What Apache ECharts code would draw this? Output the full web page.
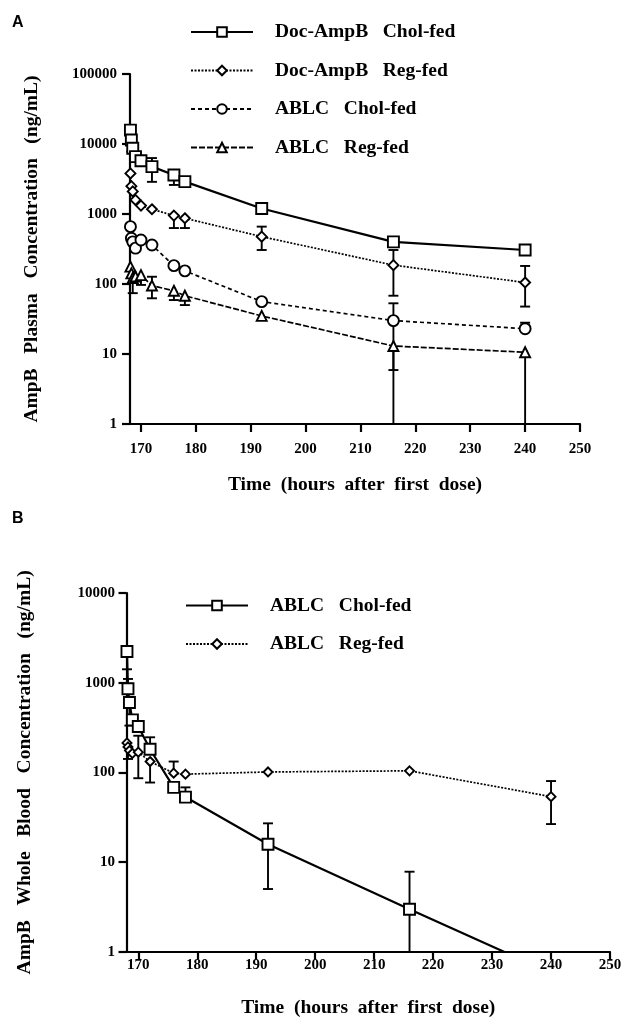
<!DOCTYPE html>
<html><head><meta charset="utf-8">
<script src="https://cdn.jsdelivr.net/npm/echarts@6/dist/echarts.min.js"></script>
<style>html,body{margin:0;padding:0;background:#fff;} #a{width:625px;height:510px;} #b{width:625px;height:508px;}</style>
</head><body><div id="a"></div><div id="b"></div>
<script>
// ---------- data ----------
const times = [168.08, 168.25, 168.5, 169, 170, 172, 176, 178, 192, 216, 240];
const xTicks = [170, 180, 190, 200, 210, 220, 230, 240, 250];
const yTicksA = [1, 10, 100, 1000, 10000, 100000];
const yTicksB = [1, 10, 100, 1000, 10000];

// Panel A (plasma)
const namesA = ['Doc-AmpB   Chol-fed', 'Doc-AmpB   Reg-fed', 'ABLC   Chol-fed', 'ABLC   Reg-fed'];
const docCholA = [15800, 11400, 8700, 6600, 5750, 4750, 3600, 2900, 1200, 400, 306];
const docRegA  = [3800, 2500, 2100, 1590, 1320, 1170, 950, 870, 475, 186, 105];
const ablcCholA = [660, 450, 400, 325, 425, 360, 183, 154, 56, 30, 23];
const ablcRegA  = [177, 142, 122, 128, 134, 95, 80, 68, 35, 13, 10.6];
// error bars: [time, mean, lower, upper]
const errDocCholA = [[168.25, 11400, 7760, null], [172, 4750, 2880, 6300], [176, 3600, 2600, null]];
const errDocRegA  = [[176, 950, 630, null], [178, 870, 630, null], [192, 475, 306, 660], [216, 186, 68, 306], [240, 105, 47.6, 181]];
const errAblcCholA = [[216, 30, 5.9, 53], [240, 23, null, 28]];
const errAblcRegA  = [[168.5, 122, 74, null], [170, 134, 97, null], [172, 95, 62.5, 127], [176, 80, 59, null], [178, 68, 50, null], [216, 13, 0.5, null], [240, 10.6, 0.5, null]];

// Panel B (whole blood)
const namesB = ['ABLC   Chol-fed', 'ABLC   Reg-fed'];
const ablcCholB = [2230, 855, 600, 385, 325, 181, 68, 53, 15.8, 2.97, 0.58];
const ablcRegB  = [213, 192, 175, 163, 168, 132, 98, 95.5, 101, 104, 53.6];
const errAblcCholB = [[168.08, 2230, 1410, null], [168.25, 855, null, 1100], [168.5, 600, 332, null], [172, 181, null, 246], [178, 53, null, 68], [192, 15.8, 5.0, 27], [216, 2.97, 0.3, 7.8]];
const errAblcRegB  = [[168.25, 192, 141, null], [170, 168, 86, 256], [172, 132, 77, null], [176, 98, null, 132], [240, 53.6, 26.5, 80]];

// ---------- helpers ----------
const SERIF = '"Liberation Serif", "Times New Roman", serif';
function pairs(ys) { return times.map((t, i) => [t, ys[i]]); }
function errData(arr) { return arr.map(d => d.map(v => v == null ? '-' : v)); }

function errSeries(arr, yMin) {
  return {
    type: 'custom', z: 1, silent: true,
    data: errData(arr),
    encode: { x: 0, y: 1 },
    renderItem: function (params, api) {
      const x = api.value(0), y = api.value(1), lo = api.value(2), hi = api.value(3);
      const p = api.coord([x, y]);
      const cw = 5;
      const st = { stroke: '#000', lineWidth: 1.9 };
      const ch = [];
      [lo, hi].forEach(v => {
        if (v == null || isNaN(v)) return;
        const clipped = v < yMin;
        const q = api.coord([x, clipped ? yMin : v]);
        ch.push({ type: 'line', shape: { x1: p[0], y1: p[1], x2: q[0], y2: q[1] }, style: st });
        if (!clipped) ch.push({ type: 'line', shape: { x1: q[0] - cw, y1: q[1], x2: q[0] + cw, y2: q[1] }, style: st });
      });
      return { type: 'group', children: ch };
    }
  };
}

function lineSeries(name, ys, symbol, size, lineType, width) {
  return {
    name: name, type: 'line', data: pairs(ys), z: 3,
    symbol: symbol, symbolSize: size,
    itemStyle: { color: '#fff', borderColor: '#000', borderWidth: 1.9 },
    lineStyle: { color: '#000', width: width, type: lineType },
    emphasis: { disabled: true }
  };
}

function xAxis(nameGap, labelMargin) {
  return {
    type: 'value', min: 168, max: 250,
    name: 'Time  (hours  after  first  dose)', nameLocation: 'middle', nameGap: nameGap,
    nameTextStyle: { fontFamily: SERIF, fontWeight: 'bold', fontSize: 19.5, color: '#000' },
    axisLine: { lineStyle: { color: '#000', width: 2.2 } },
    axisTick: { customValues: xTicks, length: 8, lineStyle: { color: '#000', width: 2.2 } },
    axisLabel: { customValues: xTicks, margin: labelMargin, fontFamily: SERIF, fontWeight: 'bold', fontSize: 15, color: '#000' },
    splitLine: { show: false }
  };
}
function yAxis(name, max, ticks, nameGap, labelMargin) {
  return {
    type: 'log', logBase: 10, min: 1, max: max,
    name: name, nameLocation: 'middle', nameGap: nameGap, nameRotate: 90,
    nameTextStyle: { fontFamily: SERIF, fontWeight: 'bold', fontSize: 19.5, color: '#000' },
    axisLine: { show: true, lineStyle: { color: '#000', width: 2.2 } },
    axisTick: { show: true, customValues: ticks, length: 8, lineStyle: { color: '#000', width: 2.2 } },
    axisLabel: { customValues: ticks, margin: labelMargin, fontFamily: SERIF, fontWeight: 'bold', fontSize: 15, color: '#000',
      formatter: v => String(Math.round(v)) },
    splitLine: { show: false }
  };
}
function legend(names, left, top, gap) {
  return {
    data: names, orient: 'vertical', left: left, top: top,
    itemWidth: 62, itemHeight: 12, itemGap: gap, selectedMode: false,
    textStyle: { fontFamily: SERIF, fontWeight: 'bold', fontSize: 19.5, color: '#000', padding: [0, 0, 0, 17] }
  };
}
const panelFont = { fontFamily: '"Liberation Sans", Arial, sans-serif', fontWeight: 'bold', fontSize: 16, color: '#000' };

// ---------- chart A ----------
const chartA = echarts.init(document.getElementById('a'), null, { renderer: 'canvas' });
chartA.setOption({
  animation: false,
  backgroundColor: '#fff',
  title: { text: 'A', left: 12, top: 15, padding: 0, textStyle: panelFont },
  grid: { left: 130, top: 74, width: 450, height: 350, outerBoundsMode: 'none' },
  legend: legend(namesA, 185, 17, 18.5),
  xAxis: xAxis(51, 18),
  yAxis: yAxis('AmpB   Plasma   Concentration   (ng/mL)', 100000, yTicksA, 88, 13),
  series: [
    errSeries(errDocCholA, 1), errSeries(errDocRegA, 1), errSeries(errAblcCholA, 1), errSeries(errAblcRegA, 1),
    lineSeries(namesA[0], docCholA, 'rect', 11, 'solid', 2.2),
    lineSeries(namesA[1], docRegA, 'diamond', 10, [2, 1.5], 1.7),
    lineSeries(namesA[2], ablcCholA, 'circle', 11, [4, 3], 1.7),
    lineSeries(namesA[3], ablcRegA, 'triangle', 10, [6, 2], 1.7)
  ]
});

// ---------- chart B ----------
const chartB = echarts.init(document.getElementById('b'), null, { renderer: 'canvas' });
chartB.setOption({
  animation: false,
  backgroundColor: '#fff',
  title: { text: 'B', left: 12, top: 1, padding: 0, textStyle: panelFont },
  grid: { left: 126.5, top: 83, width: 483.5, height: 358.7, outerBoundsMode: 'none' },
  legend: legend(namesB, 180, 80.5, 18.5),
  xAxis: xAxis(46, 6),
  yAxis: yAxis('AmpB   Whole   Blood   Concentration   (ng/mL)', 10000, yTicksB, 92, 11.5),
  series: [
    errSeries(errAblcCholB, 1), errSeries(errAblcRegB, 1),
    lineSeries(namesB[0], ablcCholB, 'rect', 11, 'solid', 2.2),
    lineSeries(namesB[1], ablcRegB, 'diamond', 9, [2, 1.5], 1.7)
  ]
});
</script></body></html>
